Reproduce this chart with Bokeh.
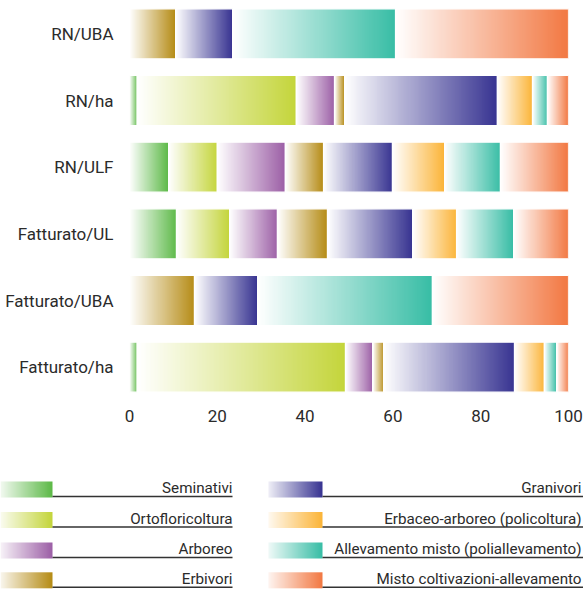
import numpy as np
from bokeh.plotting import figure
from bokeh.models import Range1d, FixedTicker
from bokeh.layouts import column
from bokeh.embed import file_html
from bokeh.resources import INLINE
from bokeh.core.properties import value

# ---------------- data ----------------
categories = ["RN/UBA", "RN/ha", "RN/ULF", "Fatturato/UL", "Fatturato/UBA", "Fatturato/ha"]
series = ["Seminativi", "Ortofloricoltura", "Arboreo", "Erbivori", "Granivori",
          "Erbaceo-arboreo (policoltura)", "Allevamento misto (poliallevamento)",
          "Misto coltivazioni-allevamento"]
seminativi = [0, 1.75, 8.9, 10.7, 0, 1.75]
ortofloricoltura = [0, 36.25, 11.1, 12.1, 0, 47.45]
arboreo = [0, 8.7, 15.5, 10.9, 0, 6.2]
erbivori = [10.5, 2.3, 8.7, 11.4, 14.8, 2.5]
granivori = [13.0, 34.8, 15.7, 19.4, 14.4, 29.8]
erbaceo_arboreo = [0, 8.0, 11.9, 10.0, 0, 6.8]
allevamento_misto = [37.1, 3.4, 12.7, 13.0, 39.8, 2.8]
misto = [39.4, 4.8, 15.5, 12.5, 31.0, 2.7]
x_ticks = [0, 20, 40, 60, 80, 100]

values = [seminativi, ortofloricoltura, arboreo, erbivori, granivori,
          erbaceo_arboreo, allevamento_misto, misto]
colors = ["#5cb947", "#c4d53b", "#9c5fa6", "#b58b14", "#373391",
          "#fbb437", "#37bda5", "#f27842"]

FONT = "Roboto"
TEXT_COLOR = "#2b2b2b"


def gradient(hex_color, start=0.0, n=160):
    h = hex_color.lstrip("#")
    r, g, b = int(h[0:2], 16), int(h[2:4], 16), int(h[4:6], 16)
    t = np.linspace(start, 1.0, n)
    arr = np.zeros((1, n, 4), dtype=np.uint8)
    arr[0, :, 0] = np.round(255 + (r - 255) * t)
    arr[0, :, 1] = np.round(255 + (g - 255) * t)
    arr[0, :, 2] = np.round(255 + (b - 255) * t)
    arr[0, :, 3] = 255
    return arr.view(np.uint32).reshape(1, n)


# ---------------- main chart ----------------
n_cat = len(categories)
ypos = [n_cat - 1 - i for i in range(n_cat)]  # top category highest
bar_h = 0.75

p = figure(width=583, height=440, output_backend="svg", toolbar_location=None,
           x_range=Range1d(0, 100), y_range=Range1d(-0.5, n_cat - 0.5),
           min_border_left=129, min_border_right=15, min_border_top=0,
           min_border_bottom=40)
p.frame_align = False
p.outline_line_color = None
p.xgrid.visible = False
p.ygrid.visible = False
p.background_fill_color = "white"
p.border_fill_color = "white"

imgs, xs, ys, dws, dhs = [], [], [], [], []
hl, hr, hy = [], [], []
for ci in range(n_cat):
    left = 0.0
    for si, vals in enumerate(values):
        v = vals[ci]
        if v > 0:
            imgs.append(gradient(colors[si]))
            xs.append(left)
            ys.append(ypos[ci] - bar_h / 2)
            dws.append(v)
            dhs.append(bar_h)
            hl.append(left)
            hr.append(left + v)
            hy.append(ypos[ci])
        left += v

p.image_rgba(image=imgs, x=xs, y=ys, dw=dws, dh=dhs)
p.hbar(y=hy, left=hl, right=hr, height=bar_h, fill_color=None,
       line_color="white", line_width=1.2)

p.xaxis.ticker = FixedTicker(ticks=x_ticks)
p.yaxis.ticker = FixedTicker(ticks=ypos)
p.yaxis.major_label_overrides = {ypos[i]: categories[i] for i in range(n_cat)}
for ax in (p.xaxis[0], p.yaxis[0]):
    ax.axis_line_color = None
    ax.major_tick_line_color = None
    ax.minor_tick_line_color = None
    ax.major_tick_out = 0
    ax.major_tick_in = 0
    ax.major_label_text_font = FONT
    ax.major_label_text_font_size = "17px"
    ax.major_label_text_color = TEXT_COLOR
p.yaxis.major_label_standoff = 16
p.xaxis.major_label_standoff = 9

# ---------------- legend (drawn as its own small figure) ----------------
lg = figure(width=583, height=149, output_backend="svg", toolbar_location=None,
            x_range=Range1d(0, 583), y_range=Range1d(-589, -440),
            min_border=0, min_border_left=0, min_border_right=0,
            min_border_top=0, min_border_bottom=0)
lg.frame_align = False
lg.axis.visible = False
lg.xgrid.visible = False
lg.ygrid.visible = False
lg.outline_line_color = None
lg.background_fill_color = "white"
lg.border_fill_color = "white"

row_top = [481.0, 511.5, 542.0, 571.8]
sw_h = 16
col_sw_left = [0, 268]
col_sw_right = [52, 322]
col_text_right = [232, 581]
col_line_right = [232, 583]

limgs, lx, ly, ldw, ldh = [], [], [], [], []
tx, ty, tt = [], [], []
sx0, sx1, sy = [], [], []
for si, name in enumerate(series):
    col = si // 4
    row = si % 4
    top = row_top[row]
    limgs.append(gradient(colors[si], start=0.08))
    lx.append(col_sw_left[col])
    ly.append(-(top + sw_h))
    ldw.append(col_sw_right[col] - col_sw_left[col])
    ldh.append(sw_h)
    tx.append(col_text_right[col])
    ty.append(-(top + 6.5))
    tt.append(name)
    sx0.append(col_sw_right[col])
    sx1.append(col_line_right[col])
    sy.append(-(top + 15))

lg.image_rgba(image=limgs, x=lx, y=ly, dw=ldw, dh=ldh)
lg.segment(x0=sx0, x1=sx1, y0=sy, y1=sy, line_color="#333333", line_width=1.6)
lg.text(x=tx, y=ty, text=tt, text_align="right", text_baseline="alphabetic",
        text_font=value(FONT), text_font_size="15.2px", text_color=TEXT_COLOR)

layout = column(p, lg)
open("out.html", "w").write(file_html(layout, INLINE))
